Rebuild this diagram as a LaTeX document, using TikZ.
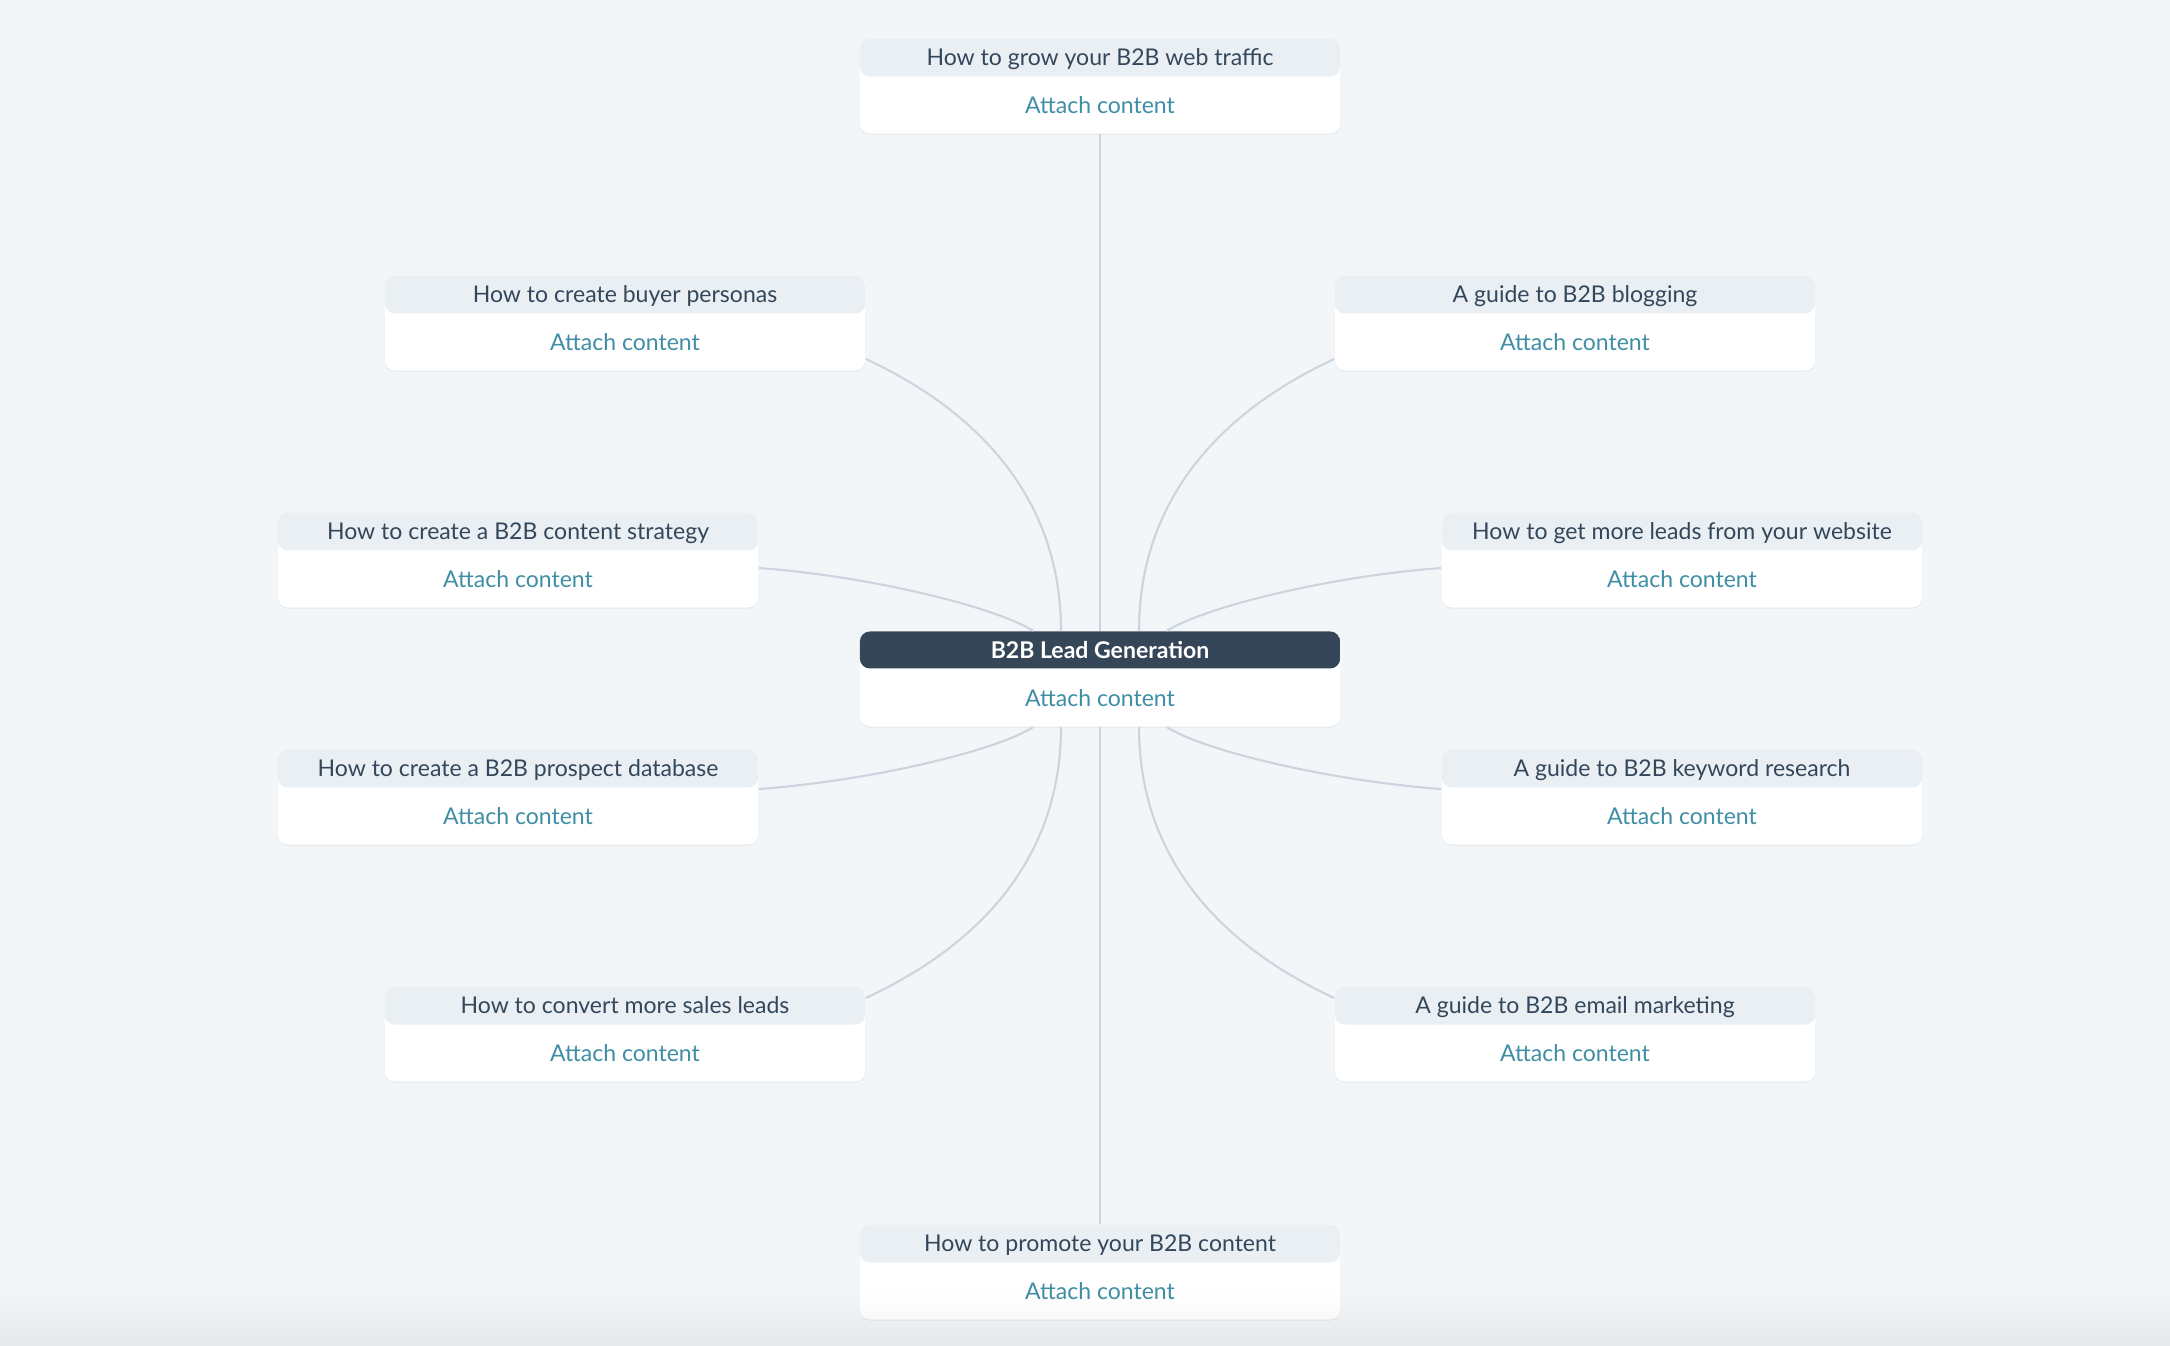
\documentclass[tikz,border=0pt]{standalone}
\usepackage{fontspec}
\setmainfont{Lato}
\usetikzlibrary{shadows,fadings}

\definecolor{bgcol}{HTML}{F3F6F9}
\definecolor{headcol}{HTML}{EAEFF4}
\definecolor{titlecol}{HTML}{33475B}
\definecolor{hubcol}{HTML}{354658}
\definecolor{linkcol}{HTML}{3F8EA5}
\definecolor{edgecol}{HTML}{CDD4DE}

\tikzset{
	topic/.style={fill=white, rounded corners=0.1cm, inner sep=0pt,
		minimum width=4.8cm, minimum height=0.95cm,
		text height=0.275cm, text depth=0.675cm,
		text=titlecol, font=\fontsize{6.55}{8}\selectfont,
		drop shadow={shadow xshift=0pt, shadow yshift=-0.3pt, opacity=0.06, fill=black},
		path picture={\fill[headcol] (path picture bounding box.north west)
			rectangle ([yshift=-0.38cm]path picture bounding box.north east);}},
	hub/.style={topic, text=white, font=\fontsize{6.55}{8}\selectfont\bfseries,
		path picture={\fill[hubcol] (path picture bounding box.north west)
			rectangle ([yshift=-0.37cm]path picture bounding box.north east);}},
	attach/.style={text=linkcol, inner sep=0pt, font=\fontsize{6.55}{8}\selectfont},
	link/.style={draw=edgecol, line width=0.6pt}
}

\begin{document}
\begin{tikzpicture}[x=0.01cm, y=-0.01cm]
	\fill[bgcol] (0,0) rectangle (2170,1346);
	\useasboundingbox (0,0) rectangle (2170,1346);

	\node[hub]   (hub)      at (1100,679) {B2B Lead Generation};
	\node[topic] (traffic)  at (1100,86)  {How to grow your B2B web traffic};
	\node[topic] (buyer)    at (625,323)  {How to create buyer personas};
	\node[topic] (strategy) at (518,560)  {How to create a B2B content strategy};
	\node[topic] (prospect) at (518,797)  {How to create a B2B prospect database};
	\node[topic] (convert)  at (625,1034) {How to convert more sales leads};
	\node[topic] (promote)  at (1100,1272) {How to promote your B2B content};
	\node[topic] (blogging) at (1575,323) {A guide to B2B blogging};
	\node[topic] (website)  at (1682,560) {How to get more leads from your website};
	\node[topic] (keyword)  at (1682,797) {A guide to B2B keyword research};
	\node[topic] (email)    at (1575,1034) {A guide to B2B email marketing};

	\node[attach] (hub-a)      at ([yshift=0.29cm]hub.south)      {Attach content};
	\node[attach] (traffic-a)  at ([yshift=0.29cm]traffic.south)  {Attach content};
	\node[attach] (buyer-a)    at ([yshift=0.29cm]buyer.south)    {Attach content};
	\node[attach] (strategy-a) at ([yshift=0.29cm]strategy.south) {Attach content};
	\node[attach] (prospect-a) at ([yshift=0.29cm]prospect.south) {Attach content};
	\node[attach] (convert-a)  at ([yshift=0.29cm]convert.south)  {Attach content};
	\node[attach] (promote-a)  at ([yshift=0.29cm]promote.south)  {Attach content};
	\node[attach] (blogging-a) at ([yshift=0.29cm]blogging.south) {Attach content};
	\node[attach] (website-a)  at ([yshift=0.29cm]website.south)  {Attach content};
	\node[attach] (keyword-a)  at ([yshift=0.29cm]keyword.south)  {Attach content};
	\node[attach] (email-a)    at ([yshift=0.29cm]email.south)    {Attach content};

	\draw[link] (traffic.south) -- (hub.north);
	\draw[link] (promote.north) -- (hub.south);
	\draw[link] ([yshift=-0.36cm]buyer.east) .. controls +(114,53) and +(0,-131) .. ([xshift=-0.39cm]hub.north);
	\draw[link] ([yshift=-0.08cm]strategy.east) .. controls +(110,8) and +(-38,-24) .. ([xshift=-0.67cm]hub.north);
	\draw[link] ([yshift=0.08cm]prospect.east) .. controls +(110,-8) and +(-38,24) .. ([xshift=-0.67cm]hub.south);
	\draw[link] ([yshift=0.36cm]convert.east) .. controls +(114,-53) and +(0,131) .. ([xshift=-0.39cm]hub.south);
	\draw[link] ([yshift=-0.36cm]blogging.west) .. controls +(-114,53) and +(0,-131) .. ([xshift=0.39cm]hub.north);
	\draw[link] ([yshift=-0.08cm]website.west) .. controls +(-110,8) and +(38,-24) .. ([xshift=0.67cm]hub.north);
	\draw[link] ([yshift=0.08cm]keyword.west) .. controls +(-110,-8) and +(38,24) .. ([xshift=0.67cm]hub.south);
	\draw[link] ([yshift=0.36cm]email.west) .. controls +(-114,-53) and +(0,131) .. ([xshift=0.39cm]hub.south);

	% soft shade along the lower edge
	\fill[black, opacity=0.05, path fading=north] (0,1290) rectangle (2170,1346);
\end{tikzpicture}
\end{document}
